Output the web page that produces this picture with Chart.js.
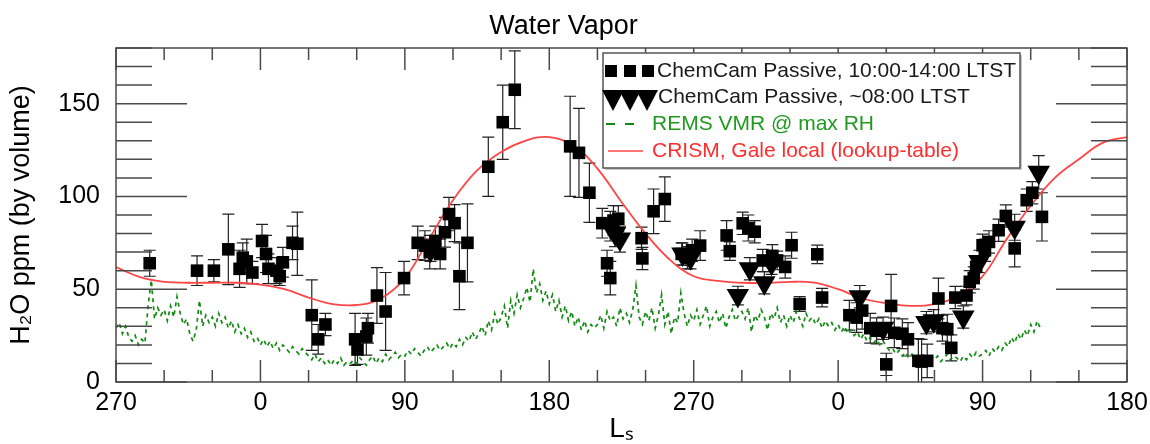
<!DOCTYPE html>
<html>
<head>
<meta charset="utf-8">
<title>Water Vapor</title>
<script src="https://cdn.jsdelivr.net/npm/chart.js@4.4.1/dist/chart.umd.min.js"></script>
<style>
  html, body { margin: 0; padding: 0; background: #fff; }
  canvas { display: block; }
</style>
</head>
<body>
<canvas id="vaporChart" width="1150" height="444"></canvas>
<script>
// Ls is continuous here: 270..360 first year, 360..720 second, 720..900 third
const xTickValues = [270, 360, 450, 540, 630, 720, 810, 900];
const xTickLabels = ['270', '0', '90', '180', '270', '0', '90', '180'];
const yTickValues = [0, 50, 100, 150];

// ChemCam Passive, 10:00-14:00 LTST (squares)
const noonLs = [291, 320.5, 331, 340, 347, 349, 351.5, 355, 361, 363.5, 365, 370, 372, 374, 380, 383, 392, 396, 400.5,
  419, 420.5, 426, 427, 432.6, 438, 449.5, 458, 462.5, 465.5, 469, 472, 475, 477.5, 481, 484, 489, 502, 511, 518.5,
  553, 558.5, 565, 573, 576, 578, 580, 583, 597.5, 598, 605, 612, 622.5, 626, 629, 634, 650.5, 652.5, 660.5, 664,
  668, 673, 679, 682, 687, 691, 696, 707, 710, 727, 731.5, 735, 740, 744, 750, 753, 755, 760, 763.5, 770, 772,
  775.5, 782.5, 785, 788, 790.5, 793, 800, 802, 804.5, 806, 810, 811.5, 814, 820, 824.5, 830, 837.5, 841, 847];
const noonPpm = [64, 60, 60, 71.5, 61, 67, 65, 59, 76, 69, 61, 60, 57, 64.5, 75, 74.5, 36, 23, 31,
  23, 17.5, 24.5, 29, 46.6, 38, 56, 75, 73.5, 70, 76, 69, 80.7, 90.5, 85.6, 57, 75, 116, 140, 157.5,
  127, 123.5, 102, 85.6, 64, 56, 87, 88, 77.5, 66.6, 92, 98.6, 69, 67, 71, 73.5, 79, 70.5, 85.5, 83,
  81, 65.5, 68, 65.5, 62, 73.7, 42, 68.8, 45.5, 36, 34.7, 38.5, 29, 27.6, 9.5, 41, 26.5, 26, 23, 11.4, 11,
  11.4, 45, 29, 28.5, 18.4, 45.5, 46.6, 54, 56, 62, 73.7, 71, 75.5, 81.8, 89.5, 72, 98, 102, 89];
const noonErr = [7, 8, 6, 19, 10, 8, 12, 6, 9, 10, 8, 7, 5, 8, 9, 17, 19, 8, 6,
  14, 8, 10, 8, 15, 21, 9, 9, 8, 9, 8, 8, 8, 9, 10, 18, 21, 16, 20, 21,
  27, 24, 16, 8, 7, 9, 8, 7, 6, 6, 12, 12, 6, 6, 6, 8, 8, 5, 6, 7,
  6, 6, 6, 5, 6, 7, 4, 5, 5, 8, 8, 10, 8, 7, 6, 17, 8, 8, 9, 12, 12,
  9, 11, 7, 8, 7, 6, 5, 6, 6, 6, 6, 6, 6, 6, 6, 10, 6, 6, 13];

// ChemCam Passive, ~08:00 LTST (triangles)
const morningLs = [466, 578, 581, 584, 623, 628, 657.5, 665, 674, 678.5, 733.5, 748, 775, 779.5, 798, 808, 830, 845];
const morningPpm = [71, 84, 80, 77, 69, 67, 46.6, 61, 53.5, 64, 46, 29, 32, 33, 35, 65, 83.4, 113];
const morningErr = [6, 8, 7, 7, 6, 6, 5, 6, 6, 6, 6, 6, 6, 6, 6, 6, 7, 9];

// REMS VMR @ max RH
const remsLs = [
  270, 272, 274, 276, 278, 280, 282, 284, 286, 288, 290, 292, 294, 296, 298,
  300, 302, 304, 306, 308, 310, 312, 314, 316, 318, 320, 322, 324, 326, 328,
  330, 332, 334, 336, 338, 340, 342, 344, 346, 348, 350, 352, 354, 356, 358,
  360, 362, 364, 366, 368, 370, 372, 374, 376, 378, 380, 382, 384, 386, 388,
  390, 392, 394, 396, 398, 400, 402, 404, 406, 408, 410, 412, 414, 416, 418,
  420, 422, 424, 426, 428, 430, 432, 434, 436, 438, 440, 442, 444, 446, 448,
  450, 452, 454, 456, 458, 460, 462, 464, 466, 468, 470, 472, 474, 476, 478,
  480, 482, 484, 486, 488, 490, 492, 494, 496, 498, 500, 502, 504, 506, 508,
  510, 512, 514, 516, 518, 520, 522, 524, 526, 528, 530, 532, 534, 536, 538,
  540, 542, 544, 546, 548, 550, 552, 554, 556, 558, 560, 562, 564, 566, 568,
  570, 572, 574, 576, 578, 580, 582, 584, 586, 588, 590, 592, 594, 596, 598,
  600, 602, 604, 606, 608, 610, 612, 614, 616, 618, 620, 622, 624, 626, 628,
  630, 632, 634, 636, 638, 640, 642, 644, 646, 648, 650, 652, 654, 656, 658,
  660, 662, 664, 666, 668, 670, 672, 674, 676, 678, 680, 682, 684, 686, 688,
  690, 692, 694, 696, 698, 700, 702, 704, 706, 708, 710, 712, 714, 716, 718,
  720, 722, 724, 726, 728, 730, 732, 734, 736, 738, 740, 742, 744, 746, 748,
  750, 752, 754, 756, 758, 760, 762, 764, 766, 768, 770, 772, 774, 776, 778,
  780, 782, 784, 786, 788, 790, 792, 794, 796, 798, 800, 802, 804, 806, 808,
  810, 812, 814, 816, 818, 820, 822, 824, 826, 828, 830, 832, 834, 836, 838,
  840, 842, 844, 846];
const remsPpm = [
  29, 32, 26, 30, 24, 22, 25, 20, 23, 21, 41, 55, 34, 40, 36,
  39, 33, 41, 35, 46, 37, 31, 34, 26, 22, 28, 44, 30, 36, 32,
  35, 30, 37, 32, 35, 29, 33, 27, 31, 26, 29, 24, 27, 22, 24,
  20, 23, 19, 22, 18, 21, 17, 20, 18, 16, 19, 17, 15, 18, 16,
  14, 12, 15, 11, 13, 10, 12, 9, 12, 10, 13, 9, 11, 10, 12,
  10, 13, 11, 9, 12, 14, 10, 13, 11, 15, 12, 14, 16, 13, 15,
  14, 17, 15, 18, 16, 14, 17, 19, 16, 18, 20, 17, 19, 21, 18,
  21, 19, 23, 20, 24, 22, 27, 23, 26, 30, 25, 33, 28, 37, 31,
  35, 41, 29, 44, 37, 47, 40, 45, 51, 43, 61, 48, 53, 44, 49,
  42, 47, 38, 44, 35, 41, 33, 38, 30, 35, 28, 33, 27, 31, 29,
  31, 36, 29, 38, 33, 35, 30, 40, 34, 37, 32, 39, 52, 35, 31,
  38, 33, 40, 29, 36, 47, 31, 38, 26, 35, 32, 48, 37, 30, 36,
  33, 39, 31, 36, 41, 30, 35, 38, 32, 37, 29, 35, 39, 33, 36,
  38, 34, 40, 27, 36, 33, 39, 35, 28, 37, 34, 40, 32, 36, 30,
  36, 32, 38, 34, 30, 37, 33, 35, 31, 34, 29, 33, 30, 32, 28,
  31, 27, 30, 26, 28, 25, 27, 23, 26, 22, 24, 21, 23, 20, 22,
  19, 17, 18, 15, 17, 14, 16, 13, 15, 12, 14, 11, 13, 12, 14,
  12, 14, 11, 13, 15, 12, 14, 13, 11, 14, 12, 15, 13, 16, 14,
  15, 17, 14, 18, 16, 19, 17, 21, 19, 24, 21, 26, 23, 28, 25,
  31, 27, 33, 29];

// CRISM, Gale local (lookup-table)
const crismLs = [270, 285, 300, 315, 330, 345, 360, 375, 390, 405, 420, 435, 450, 465, 480, 495, 510, 525, 540,
  555, 570, 585, 600, 615, 630, 645, 660, 675, 690, 705, 720, 735, 750, 765, 780, 795, 810, 825, 840, 855, 870, 885, 900];
const crismPpm = [62, 56.5, 54, 53.5, 53.5, 53.5, 52.5, 50, 45.5, 42, 41.5, 45, 56, 77, 98, 114, 124, 130, 132,
  127.5, 115, 97, 80, 66, 57, 54.5, 53.5, 53.3, 54, 53.5, 50, 45, 42.5, 41, 42, 46.5, 57, 77, 95, 110, 120, 129, 132];

const FONT = "'Liberation Sans', Arial, Helvetica, sans-serif";
const GREEN = '#138a13';
const RED = '#ff4646';
const AXIS = '#4a4a4a';

const toPoints = (xs, ys) => xs.map((x, i) => ({ x: x, y: ys[i] }));

// error bars under the markers
const errorBars = {
    id: 'errorBars',
    beforeDatasetsDraw(chart) {
        const ctx = chart.ctx;
        const area = chart.chartArea;
        const yScale = chart.scales.y;
        ctx.save();
        ctx.beginPath();
        ctx.rect(area.left, area.top, area.right - area.left, area.bottom - area.top);
        ctx.clip();
        ctx.strokeStyle = '#222';
        ctx.lineWidth = 1.2;
        chart.data.datasets.forEach((ds, di) => {
            if (!ds.errors) return;
            const meta = chart.getDatasetMeta(di);
            meta.data.forEach((pt, i) => {
                const v = ds.data[i].y;
                const e = ds.errors[i];
                const yHi = yScale.getPixelForValue(v + e);
                const yLo = yScale.getPixelForValue(v - e);
                ctx.beginPath();
                ctx.moveTo(pt.x, yHi); ctx.lineTo(pt.x, yLo);
                ctx.moveTo(pt.x - 6, yHi); ctx.lineTo(pt.x + 6, yHi);
                ctx.moveTo(pt.x - 6, yLo); ctx.lineTo(pt.x + 6, yLo);
                ctx.stroke();
            });
        });
        ctx.restore();
    }
};

// box frame with inward ticks on all four sides, then the legend box
const frameAndLegend = {
    id: 'frameAndLegend',
    afterDatasetsDraw(chart) {
        const ctx = chart.ctx;
        const { left, right, top, bottom } = chart.chartArea;
        const xs = chart.scales.x, ys = chart.scales.y;
        ctx.save();
        ctx.strokeStyle = AXIS;
        ctx.lineWidth = 1.5;
        ctx.strokeRect(left, top, right - left, bottom - top);
        ctx.beginPath();
        for (let ls = xs.min; ls <= xs.max; ls += 30) {
            const px = xs.getPixelForValue(ls);
            const len = ls % 90 === 0 ? 22 : 12;
            ctx.moveTo(px, bottom); ctx.lineTo(px, bottom - len);
            ctx.moveTo(px, top); ctx.lineTo(px, top + len);
        }
        for (let v = ys.min; v <= ys.max; v += 10) {
            const py = ys.getPixelForValue(v);
            const len = v % 50 === 0 ? 71 : 36;
            ctx.moveTo(left, py); ctx.lineTo(left + len, py);
            ctx.moveTo(right, py); ctx.lineTo(right - len, py);
        }
        ctx.stroke();
        ctx.restore();
    },
    afterDraw(chart) {
        const ctx = chart.ctx;
        const area = chart.chartArea;
        const ds = chart.data.datasets;
        const x0 = area.left + 487, y0 = area.top + 5, w = 417, h = 115;
        ctx.save();
        ctx.fillStyle = '#c8c8c8';
        ctx.fillRect(x0 + 2, y0 + 2, w, h);
        ctx.fillStyle = '#fff';
        ctx.fillRect(x0, y0, w, h);
        ctx.strokeStyle = '#555';
        ctx.lineWidth = 1.5;
        ctx.strokeRect(x0, y0, w, h);

        ctx.font = '21px ' + FONT;
        ctx.textBaseline = 'middle';
        ctx.textAlign = 'left';

        // squares
        ctx.fillStyle = '#000';
        [8, 27, 45].forEach(dx => ctx.fillRect(x0 + dx - 6, y0 + 18 - 6, 12, 12));
        ctx.fillStyle = '#1a1a1a';
        ctx.fillText(ds[0].label, x0 + 54, y0 + 18);

        // triangles
        ctx.fillStyle = '#000';
        [10, 27, 44].forEach(dx => {
            ctx.beginPath();
            ctx.moveTo(x0 + dx - 11, y0 + 37);
            ctx.lineTo(x0 + dx + 11, y0 + 37);
            ctx.lineTo(x0 + dx, y0 + 58);
            ctx.closePath();
            ctx.fill();
        });
        ctx.fillStyle = '#1a1a1a';
        ctx.fillText(ds[1].label, x0 + 55, y0 + 44);

        // dashed green
        ctx.strokeStyle = GREEN;
        ctx.lineWidth = 2;
        ctx.beginPath();
        ctx.moveTo(x0 + 3, y0 + 71); ctx.lineTo(x0 + 12, y0 + 71);
        ctx.moveTo(x0 + 22, y0 + 71); ctx.lineTo(x0 + 31, y0 + 71);
        ctx.stroke();
        ctx.fillStyle = '#1f9a1f';
        ctx.fillText(ds[3].label, x0 + 49, y0 + 71);

        // red line
        ctx.strokeStyle = RED;
        ctx.lineWidth = 1.5;
        ctx.beginPath();
        ctx.moveTo(x0 + 5, y0 + 98); ctx.lineTo(x0 + 40, y0 + 98);
        ctx.stroke();
        ctx.fillStyle = '#ff2d2d';
        ctx.fillText(ds[2].label, x0 + 49, y0 + 98);
        ctx.restore();
    }
};

new Chart(document.getElementById('vaporChart'), {
    type: 'scatter',
    data: {
        datasets: [
            {
                label: 'ChemCam Passive, 10:00-14:00 LTST',
                data: toPoints(noonLs, noonPpm),
                errors: noonErr,
                pointStyle: 'rect',
                pointRadius: 8.9,
                pointBorderWidth: 0,
                backgroundColor: '#000',
                borderColor: '#000',
            },
            {
                label: 'ChemCam Passive, ~08:00 LTST',
                data: toPoints(morningLs, morningPpm),
                errors: morningErr,
                pointStyle: 'triangle',
                rotation: 180,
                pointRadius: 13,
                pointBorderWidth: 0,
                backgroundColor: '#000',
                borderColor: '#000',
            },
            {
                label: 'CRISM, Gale local (lookup-table)',
                data: toPoints(crismLs, crismPpm),
                showLine: true,
                tension: 0.4,
                borderColor: RED,
                borderWidth: 1.8,
                pointRadius: 0,
                fill: false,
            },
            {
                label: 'REMS VMR @ max RH',
                data: toPoints(remsLs, remsPpm),
                showLine: true,
                borderColor: GREEN,
                borderWidth: 1.7,
                borderDash: [4, 4],
                pointRadius: 0,
                fill: false,
            },
        ],
    },
    options: {
        responsive: false,
        devicePixelRatio: 1,
        animation: false,
        events: [],
        layout: { padding: { top: 0, right: 23, bottom: 0, left: 0 } },
        plugins: {
            legend: { display: false },
            tooltip: { enabled: false },
            title: {
                display: true,
                text: 'Water Vapor',
                color: '#000',
                font: { family: FONT, size: 27, weight: 'normal', lineHeight: 1.2 },
                padding: { top: 10, bottom: 5.6 },
            },
        },
        scales: {
            x: {
                type: 'linear',
                min: 270,
                max: 900,
                afterBuildTicks: s => { s.ticks = xTickValues.map(v => ({ value: v })); },
                afterFit: s => { s.height = 62; s.paddingLeft = 0; s.paddingRight = 23; },
                grid: { display: false, drawTicks: false },
                border: { display: false },
                ticks: {
                    autoSkip: false,
                    maxRotation: 0,
                    padding: 6,
                    color: '#000',
                    font: { family: FONT, size: 25 },
                    callback: (v, i) => xTickLabels[i],
                },
                title: {
                    display: true,
                    text: 'Lₛ',
                    color: '#000',
                    font: { family: FONT, size: 28, lineHeight: 1 },
                    padding: { top: 0, bottom: 1 },
                },
            },
            y: {
                min: 0,
                max: 180,
                afterBuildTicks: s => { s.ticks = yTickValues.map(v => ({ value: v })); },
                afterFit: s => { s.width = 116; s.paddingTop = 0; s.paddingBottom = 0; },
                grid: { display: false, drawTicks: false },
                border: { display: false },
                ticks: {
                    padding: 16,
                    color: '#000',
                    font: { family: FONT, size: 25 },
                },
                title: {
                    display: true,
                    text: 'H₂O ppm (by volume)',
                    color: '#000',
                    font: { family: FONT, size: 27, lineHeight: 1 },
                    padding: { top: 8, bottom: 0 },
                },
            },
        },
    },
    plugins: [errorBars, frameAndLegend],
});
</script>
</body>
</html>
